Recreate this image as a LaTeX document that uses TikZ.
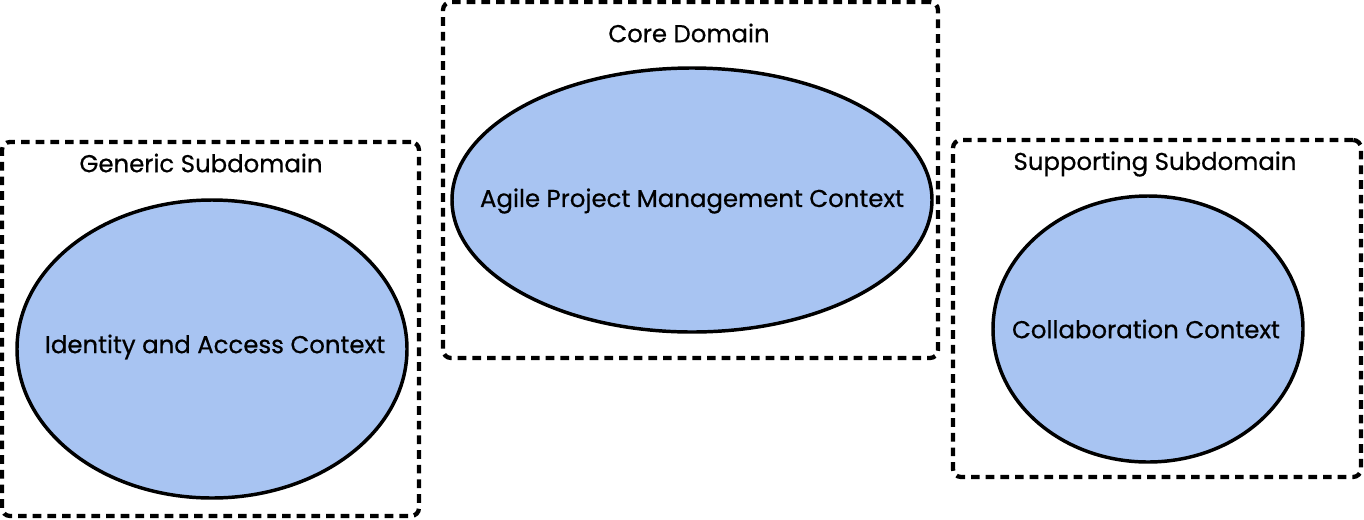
\documentclass[tikz,border=0pt]{standalone}
\usepackage{fontspec}
\setmainfont{Poppins}[FakeBold=0.6]
\usetikzlibrary{shapes.geometric}
\definecolor{ctxblue}{RGB}{168,196,242}
\tikzset{
  domainbox/.style={draw=black, line width=3.2pt, dash pattern=on 6.5pt off 4.5pt, rounded corners=6pt, inner sep=0pt},
  ctx/.style={ellipse, draw=black, line width=2.6pt, fill=ctxblue, inner sep=0pt},
  lbl/.style={font=\fontsize{18.3}{20}\selectfont, text=black, inner sep=0pt},
}
\begin{document}
\begin{tikzpicture}[x=0.75pt, y=-0.75pt]
\useasboundingbox (0,0) rectangle (1364,519);
% domain boxes
\node[domainbox, minimum width=312.75pt, minimum height=280.5pt] (gen) at (210.5,329) {};
\node[domainbox, minimum width=371.25pt, minimum height=267pt] (core) at (690.5,180) {};
\node[domainbox, minimum width=306pt, minimum height=252.75pt] (sup) at (1157,308.5) {};
% titles
\node[lbl] (genT) at (201,163) {Generic Subdomain};
\node[lbl] (coreT) at (689,33) {Core Domain};
\node[lbl] (supT) at (1155,164) {Supporting Subdomain};
% contexts
\node[ctx, minimum width=292.5pt, minimum height=223.5pt] (iam) at (212,349) {};
\node[ctx, minimum width=360pt, minimum height=198pt] (apm) at (692,200) {};
\node[ctx, minimum width=232.5pt, minimum height=199.5pt] (col) at (1148,329) {};
\node[lbl] (iamT) at (215,347) {Identity and Access Context};
\node[lbl] (apmT) at (692,201) {Agile Project Management Context};
\node[lbl] (colT) at (1146,329) {Collaboration Context};
\end{tikzpicture}
\end{document}
